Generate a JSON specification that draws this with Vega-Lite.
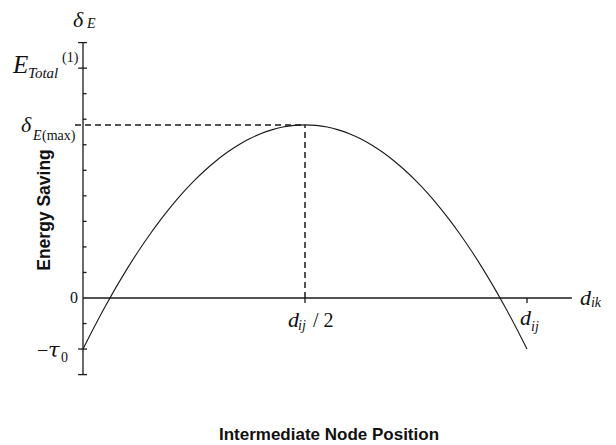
{
  "$schema": "https://vega.github.io/schema/vega-lite/v6.json",
  "width": 616,
  "height": 445,
  "autosize": "none",
  "padding": 0,
  "background": "white",
  "config": {"view": {"stroke": null}},
  "datasets": {
    "curve": [
      {"x": 0, "y": -2.0}, {"x": 0.025, "y": -1.144}, {"x": 0.05, "y": -0.332}, {"x": 0.075, "y": 0.436},
      {"x": 0.1, "y": 1.161}, {"x": 0.125, "y": 1.841}, {"x": 0.15, "y": 2.478}, {"x": 0.175, "y": 3.07},
      {"x": 0.2, "y": 3.619}, {"x": 0.225, "y": 4.124}, {"x": 0.25, "y": 4.585}, {"x": 0.275, "y": 5.002},
      {"x": 0.3, "y": 5.375}, {"x": 0.325, "y": 5.704}, {"x": 0.35, "y": 5.99}, {"x": 0.375, "y": 6.231},
      {"x": 0.4, "y": 6.429}, {"x": 0.425, "y": 6.582}, {"x": 0.45, "y": 6.692}, {"x": 0.475, "y": 6.758},
      {"x": 0.5, "y": 6.78}, {"x": 0.525, "y": 6.758}, {"x": 0.55, "y": 6.692}, {"x": 0.575, "y": 6.582},
      {"x": 0.6, "y": 6.429}, {"x": 0.625, "y": 6.231}, {"x": 0.65, "y": 5.99}, {"x": 0.675, "y": 5.704},
      {"x": 0.7, "y": 5.375}, {"x": 0.725, "y": 5.002}, {"x": 0.75, "y": 4.585}, {"x": 0.775, "y": 4.124},
      {"x": 0.8, "y": 3.619}, {"x": 0.825, "y": 3.07}, {"x": 0.85, "y": 2.478}, {"x": 0.875, "y": 1.841},
      {"x": 0.9, "y": 1.161}, {"x": 0.925, "y": 0.436}, {"x": 0.95, "y": -0.332}, {"x": 0.975, "y": -1.144},
      {"x": 1.0, "y": -2.0}
    ],
    "solidRules": [
      {"x": 0, "x2": 0, "y": -3, "y2": 10},
      {"x": 0, "x2": 1.101, "y": 0, "y2": 0},
      {"x": -0.011, "x2": 0.009, "y": 10, "y2": 10},
      {"x": -0.011, "x2": 0.009, "y": 9, "y2": 9},
      {"x": -0.011, "x2": 0.009, "y": -2, "y2": -2},
      {"x": -0.011, "x2": 0.009, "y": -3, "y2": -3},
      {"x": 0, "x2": 0.008, "y": 8, "y2": 8},
      {"x": 0, "x2": 0.008, "y": 7, "y2": 7},
      {"x": 0, "x2": 0.008, "y": 6, "y2": 6},
      {"x": 0, "x2": 0.008, "y": 5, "y2": 5},
      {"x": 0, "x2": 0.008, "y": 4, "y2": 4},
      {"x": 0, "x2": 0.008, "y": 3, "y2": 3},
      {"x": 0, "x2": 0.008, "y": 2, "y2": 2},
      {"x": 0, "x2": 0.008, "y": 1, "y2": 1},
      {"x": 0, "x2": 0.008, "y": -1, "y2": -1},
      {"x": 0.5, "x2": 0.5, "y": 0, "y2": -0.2},
      {"x": 1, "x2": 1, "y": 0, "y2": -0.2}
    ],
    "dashedRules": [
      {"x": -0.018, "x2": 0.5, "y": 6.774, "y2": 6.774},
      {"x": 0.5, "x2": 0.5, "y": 0, "y2": 6.774}
    ]
  },
  "layer": [
    {
      "data": {"name": "solidRules"},
      "mark": {"type": "rule", "color": "#1a1a1a", "strokeWidth": 1.3},
      "encoding": {
        "x": {"field": "x", "type": "quantitative", "scale": {"domain": [-0.18694, 1.20045], "nice": false, "zero": false}, "axis": null},
        "x2": {"field": "x2"},
        "y": {"field": "y", "type": "quantitative", "scale": {"domain": [-5.756, 11.668], "nice": false, "zero": false}, "axis": null},
        "y2": {"field": "y2"}
      }
    },
    {
      "data": {"name": "dashedRules"},
      "mark": {"type": "rule", "color": "#1a1a1a", "strokeWidth": 1.5, "strokeDash": [6, 4]},
      "encoding": {
        "x": {"field": "x", "type": "quantitative"},
        "x2": {"field": "x2"},
        "y": {"field": "y", "type": "quantitative"},
        "y2": {"field": "y2"}
      }
    },
    {
      "data": {"name": "curve"},
      "mark": {"type": "line", "color": "#1a1a1a", "strokeWidth": 1.1, "interpolate": "monotone"},
      "encoding": {
        "x": {"field": "x", "type": "quantitative"},
        "y": {"field": "y", "type": "quantitative"}
      }
    },
    {
      "data": {"values": [
        {"x": -0.0225, "y": 10.611, "t": "δ"},
        {"x": -0.1396, "y": 6.5, "t": "δ"},
        {"x": 0.4617, "y": -1.135, "t": "d"},
        {"x": 0.9842, "y": -1.057, "t": "d"},
        {"x": 1.1194, "y": -0.274, "t": "d"}
      ]},
      "mark": {"type": "text", "font": "Liberation Serif", "fontStyle": "italic", "fontSize": 22, "align": "left", "baseline": "alphabetic", "color": "#111"},
      "encoding": {
        "x": {"field": "x", "type": "quantitative"},
        "y": {"field": "y", "type": "quantitative"},
        "text": {"field": "t"}
      }
    },
    {
      "data": {"values": [
        {"x": -0.1577, "y": 8.81, "t": "E"}
      ]},
      "mark": {"type": "text", "font": "Liberation Serif", "fontStyle": "italic", "fontSize": 25, "align": "left", "baseline": "alphabetic", "color": "#111"},
      "encoding": {
        "x": {"field": "x", "type": "quantitative"},
        "y": {"field": "y", "type": "quantitative"},
        "text": {"field": "t"}
      }
    },
    {
      "data": {"values": [
        {"x": -0.0788, "y": -2.31, "t": "τ"}
      ]},
      "mark": {"type": "text", "font": "DejaVu Serif", "fontStyle": "italic", "fontSize": 21, "align": "left", "baseline": "alphabetic", "color": "#111"},
      "encoding": {
        "x": {"field": "x", "type": "quantitative"},
        "y": {"field": "y", "type": "quantitative"},
        "text": {"field": "t"}
      }
    },
    {
      "data": {"values": [
        {"x": -0.1239, "y": 8.614, "t": "Total"}
      ]},
      "mark": {"type": "text", "font": "Liberation Serif", "fontStyle": "italic", "fontSize": 15, "align": "left", "baseline": "alphabetic", "color": "#111"},
      "encoding": {
        "x": {"field": "x", "type": "quantitative"},
        "y": {"field": "y", "type": "quantitative"},
        "text": {"field": "t"}
      }
    },
    {
      "data": {"values": [
        {"x": 0.009, "y": 10.572, "t": "E"},
        {"x": -0.1126, "y": 6.186, "t": "E"},
        {"x": 0.4842, "y": -1.253, "t": "ij"},
        {"x": 1.009, "y": -1.292, "t": "ij"},
        {"x": 1.1441, "y": -0.352, "t": "ik"}
      ]},
      "mark": {"type": "text", "font": "Liberation Serif", "fontStyle": "italic", "fontSize": 14, "align": "left", "baseline": "alphabetic", "color": "#111"},
      "encoding": {
        "x": {"field": "x", "type": "quantitative"},
        "y": {"field": "y", "type": "quantitative"},
        "text": {"field": "t"}
      }
    },
    {
      "data": {"values": [
        {"x": -0.0473, "y": 9.24, "t": "(1)"},
        {"x": -0.0923, "y": 6.186, "t": "(max)"},
        {"x": -0.0495, "y": -2.49, "t": "0"}
      ]},
      "mark": {"type": "text", "font": "Liberation Serif", "fontSize": 14, "align": "left", "baseline": "alphabetic", "color": "#111"},
      "encoding": {
        "x": {"field": "x", "type": "quantitative"},
        "y": {"field": "y", "type": "quantitative"},
        "text": {"field": "t"}
      }
    },
    {
      "data": {"values": [
        {"x": -0.0113, "y": -0.196, "t": "0"}
      ]},
      "mark": {"type": "text", "font": "Liberation Serif", "fontSize": 16, "align": "right", "baseline": "alphabetic", "color": "#111"},
      "encoding": {
        "x": {"field": "x", "type": "quantitative"},
        "y": {"field": "y", "type": "quantitative"},
        "text": {"field": "t"}
      }
    },
    {
      "data": {"values": [
        {"x": -0.1036, "y": -2.31, "t": "−"},
        {"x": 0.518, "y": -1.135, "t": "/ 2"}
      ]},
      "mark": {"type": "text", "font": "Liberation Serif", "fontSize": 20, "align": "left", "baseline": "alphabetic", "color": "#111"},
      "encoding": {
        "x": {"field": "x", "type": "quantitative"},
        "y": {"field": "y", "type": "quantitative"},
        "text": {"field": "t"}
      }
    },
    {
      "data": {"values": [
        {"x": -0.0743, "y": 3.446, "t": "Energy Saving"}
      ]},
      "mark": {"type": "text", "font": "Liberation Sans", "fontWeight": "bold", "fontSize": 17.5, "angle": 270, "align": "center", "baseline": "alphabetic", "color": "#111"},
      "encoding": {
        "x": {"field": "x", "type": "quantitative"},
        "y": {"field": "y", "type": "quantitative"},
        "text": {"field": "t"}
      }
    },
    {
      "data": {"values": [
        {"x": 0.554, "y": -5.56, "t": "Intermediate Node Position"}
      ]},
      "mark": {"type": "text", "font": "Liberation Sans", "fontWeight": "bold", "fontSize": 17, "align": "center", "baseline": "alphabetic", "color": "#111"},
      "encoding": {
        "x": {"field": "x", "type": "quantitative"},
        "y": {"field": "y", "type": "quantitative"},
        "text": {"field": "t"}
      }
    }
  ]
}
